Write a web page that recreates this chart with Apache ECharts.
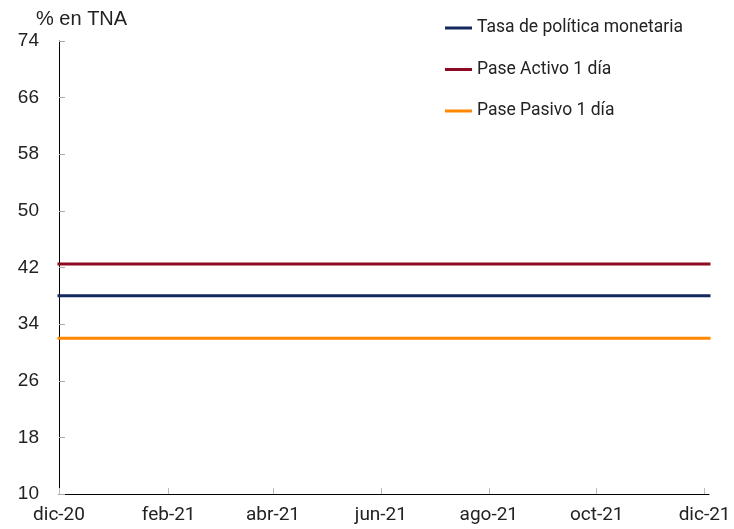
<!DOCTYPE html>
<html>
<head>
<meta charset="utf-8">
<script src="https://cdn.jsdelivr.net/npm/echarts@6/dist/echarts.min.js"></script>
<style>
  html, body { margin: 0; padding: 0; background: #fff; }
  #chart { width: 734px; height: 529px; }
</style>
</head>
<body>
<div id="chart"></div>
<script>
// fechas (inicio y fin del período)
var dates = ['2020-12-01', '2021-12-03T12:00:00'];
// tasas en % TNA
var tasaPolitica = [38, 38];
var paseActivo = [42.5, 42.5];
var pasePasivo = [32, 32];
// etiquetas del eje x
var tickDates = ['2020-12-01', '2021-02-01', '2021-04-01', '2021-06-01', '2021-08-01', '2021-10-01', '2021-12-01'];
var tickLabels = ['dic-20', 'feb-21', 'abr-21', 'jun-21', 'ago-21', 'oct-21', 'dic-21'];

var toTime = function (s) { return echarts.number.parseDate(s).getTime(); };
var tickValues = tickDates.map(toTime);

function pairs(vals) {
  return dates.map(function (d, i) { return [toTime(d), vals[i]]; });
}

var chart = echarts.init(document.getElementById('chart'));
var option = {
  animation: false,
  title: {
    text: '% en TNA',
    left: 31,
    top: 4,
    textStyle: { fontFamily: 'Liberation Sans', fontSize: 20, fontWeight: 'normal', color: '#222' }
  },
  legend: {
    orient: 'vertical',
    left: 445,
    top: 18.5,
    padding: 0,
    itemWidth: 27,
    itemHeight: 3,
    itemGap: 22.5,
    icon: 'rect',
    textStyle: { fontFamily: 'Roboto', fontSize: 17.5, lineHeight: 19, color: '#222' },
    data: ['Tasa de política monetaria', 'Pase Activo 1 día', 'Pase Pasivo 1 día']
  },
  grid: { left: 59, right: 25, top: 41, bottom: 35, containLabel: false },
  xAxis: {
    // eje de fechas como valores numéricos para fijar las marcas a mano
    type: 'value',
    min: toTime(dates[0]),
    max: toTime(dates[1]),
    axisLine: { lineStyle: { color: '#000', width: 1 } },
    axisTick: { show: true, inside: true, length: 6, customValues: tickValues, lineStyle: { color: '#bbb' } },
    axisLabel: {
      customValues: tickValues,
      margin: 12,
      fontFamily: 'Roboto',
      fontSize: 19,
      color: '#222',
      hideOverlap: false,
      formatter: function (v) {
        var i = tickValues.indexOf(v);
        return i >= 0 ? tickLabels[i] : '';
      }
    },
    splitLine: { show: false }
  },
  yAxis: {
    type: 'value',
    min: 10,
    max: 74,
    interval: 8,
    axisLine: { show: true, lineStyle: { color: '#000', width: 1 } },
    axisTick: { show: true, inside: true, length: 6, lineStyle: { color: '#aaa' } },
    axisLabel: {
      margin: 20,
      fontFamily: 'Liberation Sans',
      fontSize: 19,
      color: '#222',
      padding: [0, 0, 9, 0]
    },
    splitLine: { show: false }
  },
  series: [
    {
      name: 'Tasa de política monetaria',
      type: 'line',
      data: pairs(tasaPolitica),
      showSymbol: false,
      color: '#14285e',
      lineStyle: { width: 3, cap: 'square' }
    },
    {
      name: 'Pase Activo 1 día',
      type: 'line',
      data: pairs(paseActivo),
      showSymbol: false,
      color: '#8c0a22',
      lineStyle: { width: 3, cap: 'square' }
    },
    {
      name: 'Pase Pasivo 1 día',
      type: 'line',
      data: pairs(pasePasivo),
      showSymbol: false,
      color: '#ff8800',
      lineStyle: { width: 3, cap: 'square' }
    }
  ]
};
chart.setOption(option);
</script>
</body>
</html>
